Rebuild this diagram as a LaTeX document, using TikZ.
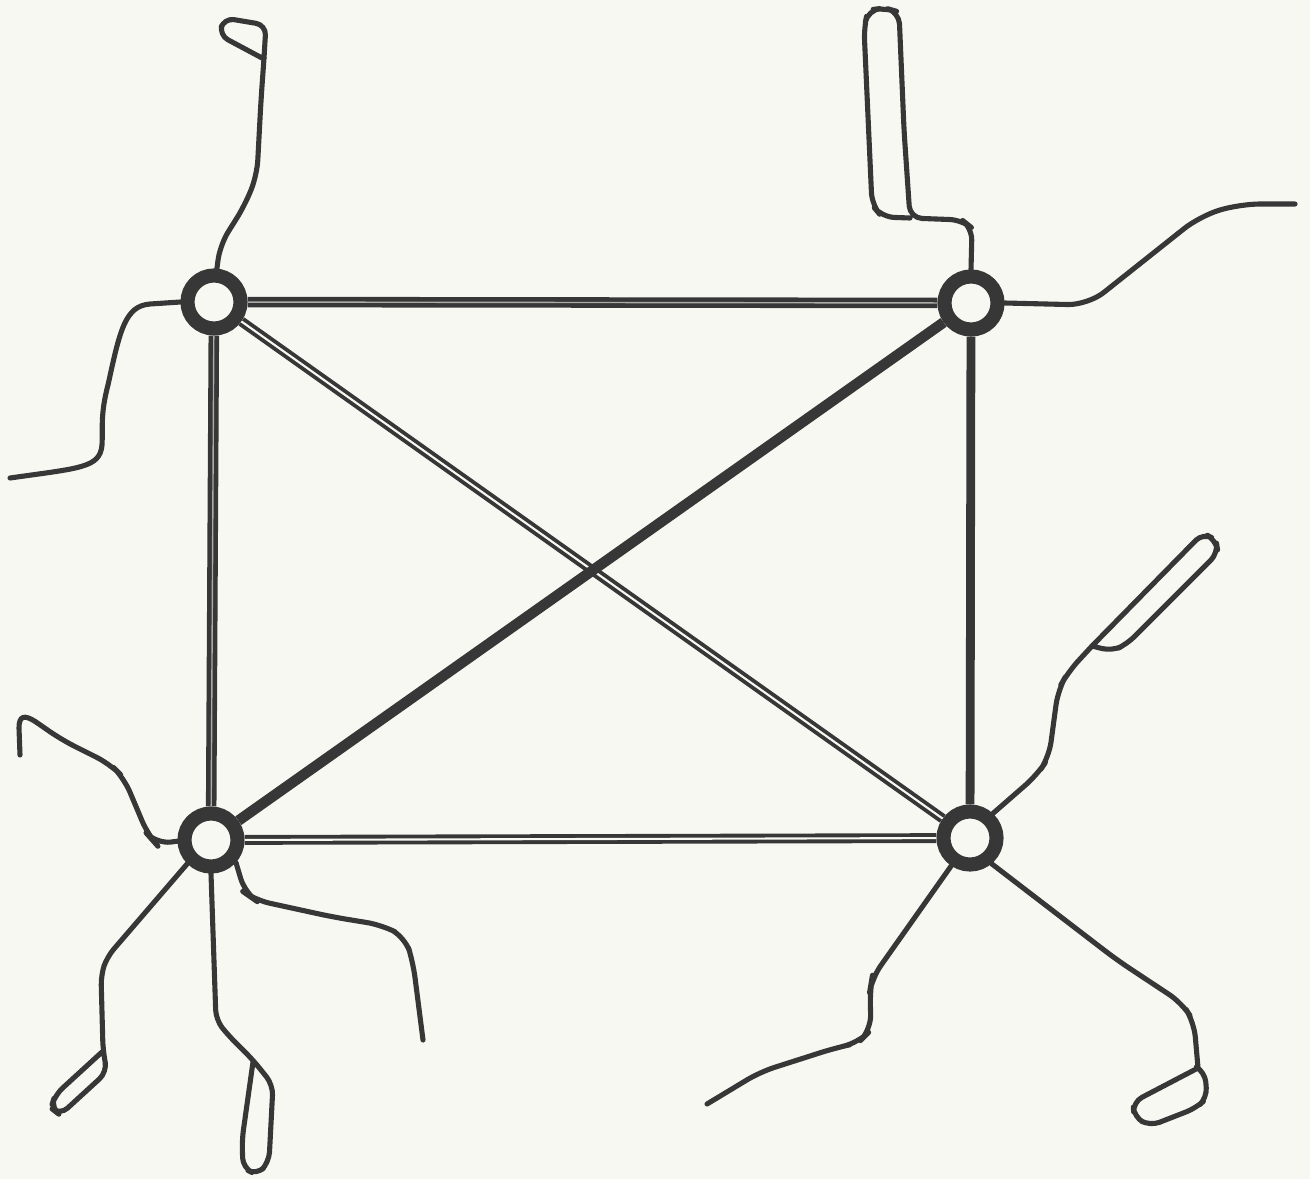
\documentclass[tikz,border=0pt]{standalone}
\usepackage{tikz}
\definecolor{ink}{RGB}{55,55,55}
\definecolor{paper}{RGB}{248,248,243}
\tikzstyle{ring} = [draw=ink,fill=paper,circle,line width=4pt,inner sep=0mm,minimum size=5.3mm]
\tikzstyle{bar} = [draw=ink,line width=3pt]
\tikzstyle{thinbar} = [draw=ink,line width=2.5pt]
\tikzstyle{pair} = [draw=ink,double=paper,line width=1.1pt,double distance=0.6pt]
\tikzstyle{tightpair} = [draw=ink,double=ink!40!paper,line width=1.3pt,double distance=0.4pt]
\tikzstyle{wire} = [draw=ink,line width=1.45pt,line cap=round,line join=round]

\begin{document}
\begin{tikzpicture}[x=0.01cm,y=-0.01cm]
\fill[paper] (0,0) rectangle (1310,1179);
\useasboundingbox (0,0) rectangle (1310,1179);

\draw(214,302) node[ring] (A) {};
\draw(971,303) node[ring] (B) {};
\draw(211,840) node[ring] (C) {};
\draw(970,838) node[ring] (D) {};

\draw[tightpair] (A) -- (B);
\draw[tightpair] (A) -- (C);
\draw[thinbar] (B) -- (D);
\draw[pair] (C) -- (D);
\draw[pair] (A) -- (D);
\draw[bar] (C) -- (B);

% wires at A
\draw[wire,rounded corners=1.5mm] (A.85) -- (220,245) -- (245,205) -- (257,175) -- (261,100) -- (264,58);
\draw[wire,rounded corners=1mm] (264,58) -- (266,25) -- (224,18) -- (219,35) -- (262,58);
\draw[wire] (A.180) -- (150,304) .. controls (125,306) and (120,330) .. (108,385)
  .. controls (100,415) and (103,430) .. (102,445) .. controls (100,468) and (80,468) .. (10,478);

% wires at B
\draw[wire,rounded corners=1.2mm] (B.90) -- (972,228) -- (962,220) -- (910,218) -- (904,130) -- (899,12) -- (885,8) -- (868,10) -- (864,28) -- (872,205) -- (882,217) -- (910,218);
\draw[wire,rounded corners=2mm] (B.0) -- (1088,305) -- (1200,216) -- (1240,204) -- (1295,204);

% wires at C
\draw[wire,rounded corners=1.5mm] (C.182) -- (156,844) -- (148,835) -- (124,778) -- (110,764) -- (62,740) -- (36,722);
\draw[wire] (36,722) .. controls (24,714) and (19,716) .. (19,728) -- (20,755);
\draw[wire,rounded corners=1mm] (C.225) -- (107,957) -- (101,975) -- (103,1050) -- (107,1072) -- (60,1115) -- (51,1108) -- (55,1095) -- (102,1052);
\draw[wire,rounded corners=1mm] (C.270) -- (216,1020) -- (228,1035) -- (253,1060) -- (273,1085) -- (269,1162) -- (257,1175) -- (243,1168) -- (242,1140) -- (253,1062);
\draw[wire,rounded corners=1.5mm] (C.318) -- (245,893) -- (255,900) -- (333,917) -- (382,925) -- (405,937) -- (413,962) -- (423,1040);

% wires at D
\draw[wire,rounded corners=1.5mm] (D.47) -- (1037,775) -- (1049,757) -- (1058,690) -- (1068,672) -- (1092,646);
\draw[wire,rounded corners=1mm] (1092,646) -- (1203,533) -- (1216,540) -- (1218,553) -- (1127,644) -- (1112,651) -- (1092,646);
\draw[wire,rounded corners=1.5mm] (D.236) -- (872,978) -- (870,990) -- (871,1030) -- (858,1043) -- (835,1048) -- (760,1072) -- (707,1104);
\draw[wire,rounded corners=1.5mm] (D.310) -- (1117,960) -- (1182,1003) -- (1194,1022) -- (1198,1068);
\draw[wire,rounded corners=1mm] (1198,1068) -- (1205,1072) -- (1207,1098) -- (1196,1108) -- (1150,1126) -- (1134,1117) -- (1133,1102) -- (1198,1068);

\end{tikzpicture}
\end{document}
